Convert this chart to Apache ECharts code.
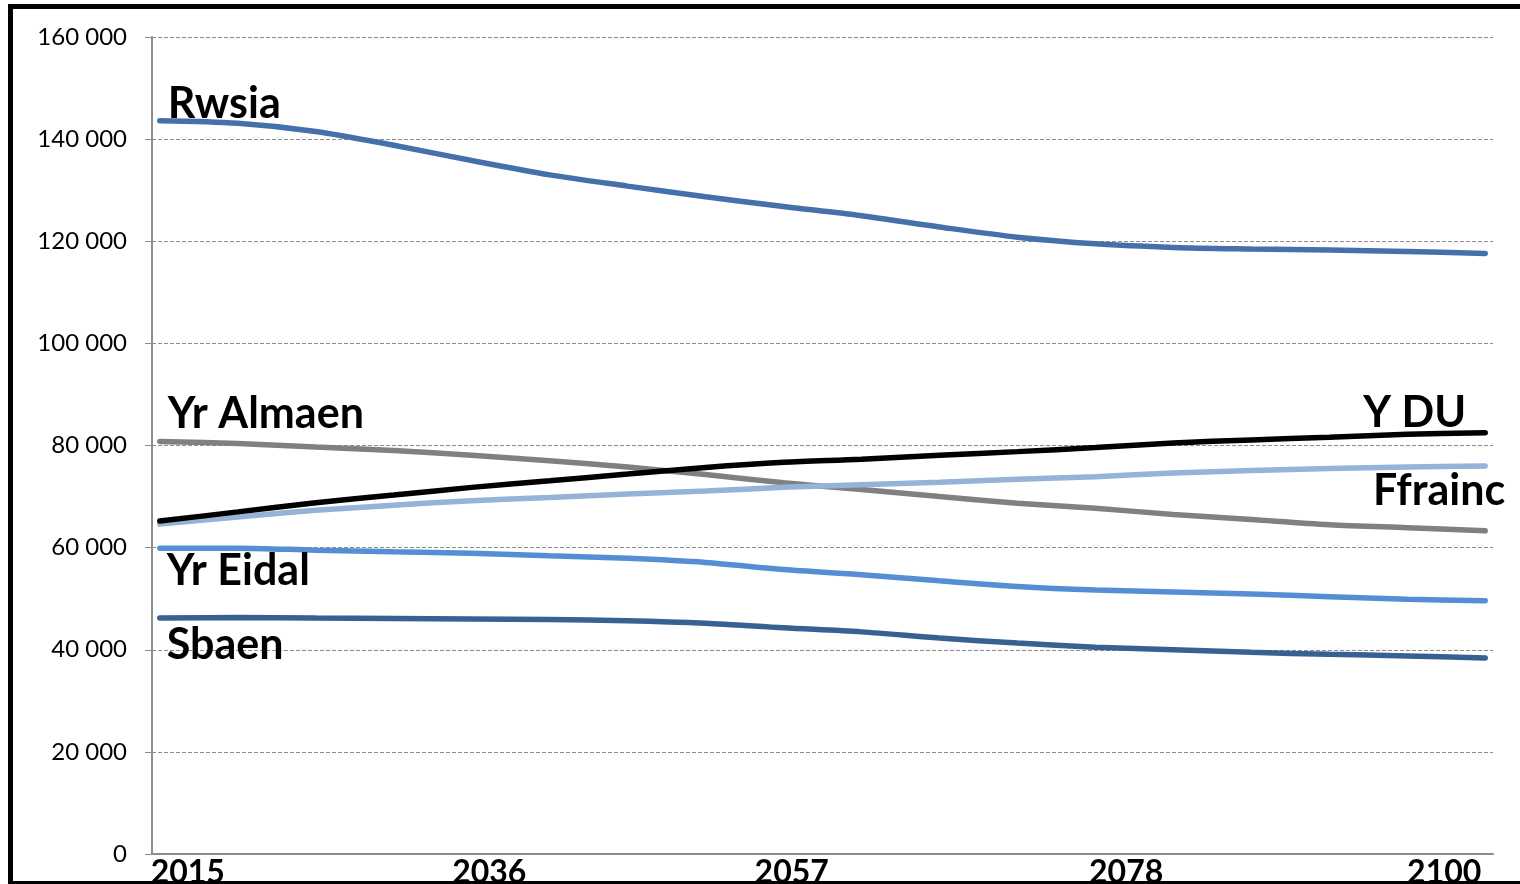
<!DOCTYPE html>
<html>
<head>
    <meta charset="utf-8" />
    <script src="https://cdn.jsdelivr.net/npm/echarts@6/dist/echarts.min.js"></script>
    <style type="text/css">
    html, body {
        margin: 0;
        padding: 0;
        background-color: #ffffff;
        overflow: hidden;
    }

    #chart {
        position: absolute;
        left: 0;
        top: 0;
        width: 1520px;
        height: 884px;
    }

    #frame {
        position: absolute;
        left: 8px;
        top: 4px;
        width: 1540px;
        height: 882px;
        box-sizing: border-box;
        border: 5px solid #000;
        border-right: none;
        pointer-events: none;
        z-index: 5;
    }
    </style>
</head>

<body>
    <div id="chart"></div>
    <div id="frame"></div>

    <script type="text/javascript">
    // years, every 5 years
    let years = [2015, 2020, 2025, 2030, 2035, 2040, 2045, 2050, 2055, 2060,
                 2065, 2070, 2075, 2080, 2085, 2090, 2095, 2100];

    let rwsia   = [143600, 143100, 141500, 138800, 135800, 133000, 130800, 128700, 126800, 125000,
                   122800, 120800, 119500, 118800, 118500, 118300, 118000, 117600];
    let almaen  = [80800, 80400, 79700, 79000, 78100, 77000, 75800, 74300, 72700, 71400,
                   70000, 68700, 67700, 66500, 65500, 64500, 63900, 63300];
    let ydu     = [65200, 67000, 68800, 70300, 71800, 73100, 74400, 75700, 76700, 77300,
                   78100, 78800, 79600, 80500, 81100, 81600, 82200, 82500];
    let ffrainc = [64600, 66000, 67300, 68300, 69200, 69800, 70500, 71100, 71800, 72300,
                   72800, 73400, 73900, 74600, 75100, 75500, 75800, 76000];
    let eidal   = [59900, 59900, 59500, 59200, 58900, 58400, 57900, 57100, 55700, 54700,
                   53500, 52400, 51700, 51300, 50900, 50400, 49900, 49600];
    let sbaen   = [46200, 46300, 46200, 46100, 46000, 45900, 45700, 45200, 44300, 43500,
                   42300, 41300, 40500, 40000, 39500, 39100, 38800, 38400];

    let xTicks = [2015, 2036, 2057, 2078, 2100];
    // horizontal nudge of each year label, px
    let xShift = {2015: 28, 2036: 2, 2057: -23, 2078: -16, 2100: -41};

    let xRich = {};
    xTicks.forEach(function (y) {
        let s = xShift[y];
        xRich['y' + y] = {
            fontFamily: 'Lato',
            fontWeight: 'bold',
            fontSize: 32,
            color: '#000',
            padding: s > 0 ? [0, 0, 0, 2 * s] : [0, -2 * s, 0, 0]
        };
    });

    function pairs(vals) {
        return years.map(function (y, i) { return [y, vals[i]]; });
    }

    // name label tied to first or last point of a series
    function nameMark(name, idx, vals, offset, align) {
        return {
            symbol: 'circle',
            symbolSize: 0,
            silent: true,
            data: [{
                coord: [years[idx], vals[idx]],
                label: {
                    show: true,
                    formatter: name,
                    position: 'inside',
                    align: align,
                    verticalAlign: 'middle',
                    offset: offset,
                    fontFamily: 'Lato',
                    fontWeight: 'bold',
                    fontSize: 43,
                    color: '#000'
                }
            }]
        };
    }

    function lineSeries(name, vals, color, mark) {
        return {
            name: name,
            type: 'line',
            data: pairs(vals),
            symbol: 'none',
            smooth: 0.3,
            lineStyle: {
                color: color,
                width: 5.5,
                cap: 'round'
            },
            z: 3,
            markPoint: mark
        };
    }

    let last = years.length - 1;

    let opt = {
        animation: false,
        backgroundColor: '#ffffff',
        grid: {
            left: 152,
            right: 27,
            top: 37,
            bottom: 30,
            outerBoundsMode: 'none'
        },
        xAxis: {
            type: 'value',
            min: 2014.5,
            max: 2100.5,
            splitLine: { show: false },
            axisLine: {
                show: true,
                lineStyle: { color: '#8c8c8c', width: 2 }
            },
            axisTick: { show: false },
            axisLabel: {
                customValues: xTicks,
                margin: 3,
                formatter: function (v) {
                    return '{y' + v + '|' + v + '}';
                },
                rich: xRich
            }
        },
        yAxis: {
            type: 'value',
            min: 0,
            max: 160000,
            interval: 20000,
            axisLine: {
                show: true,
                lineStyle: { color: '#8c8c8c', width: 2 }
            },
            axisTick: {
                show: true,
                length: 7,
                lineStyle: { color: '#8c8c8c', width: 1 }
            },
            splitLine: {
                show: true,
                lineStyle: {
                    color: '#8c8c8c',
                    width: 1,
                    type: [4, 2]
                }
            },
            axisLabel: {
                margin: 25,
                fontFamily: 'Lato',
                fontSize: 24,
                color: '#000',
                formatter: function (v) {
                    return String(v).replace(/\B(?=(\d{3})+(?!\d))/g, ' ');
                }
            }
        },
        series: [
            lineSeries('Rwsia', rwsia, '#4571aa', nameMark('Rwsia', 0, rwsia, [8, -17], 'left')),
            lineSeries('Yr Almaen', almaen, '#808080', nameMark('Yr Almaen', 0, almaen, [8, -27], 'left')),
            lineSeries('Ffrainc', ffrainc, '#95b3d7', nameMark('Ffrainc', last, ffrainc, [20, 25], 'right')),
            lineSeries('Y DU', ydu, '#000000', nameMark('Y DU', last, ydu, [-19, -20], 'right')),
            lineSeries('Yr Eidal', eidal, '#558ed5', nameMark('Yr Eidal', 0, eidal, [7, 23], 'left')),
            lineSeries('Sbaen', sbaen, '#386092', nameMark('Sbaen', 0, sbaen, [7, 27], 'left'))
        ]
    };

    let chart = echarts.init(document.getElementById('chart'));
    chart.setOption(opt);
    </script>
</body>
</html>
